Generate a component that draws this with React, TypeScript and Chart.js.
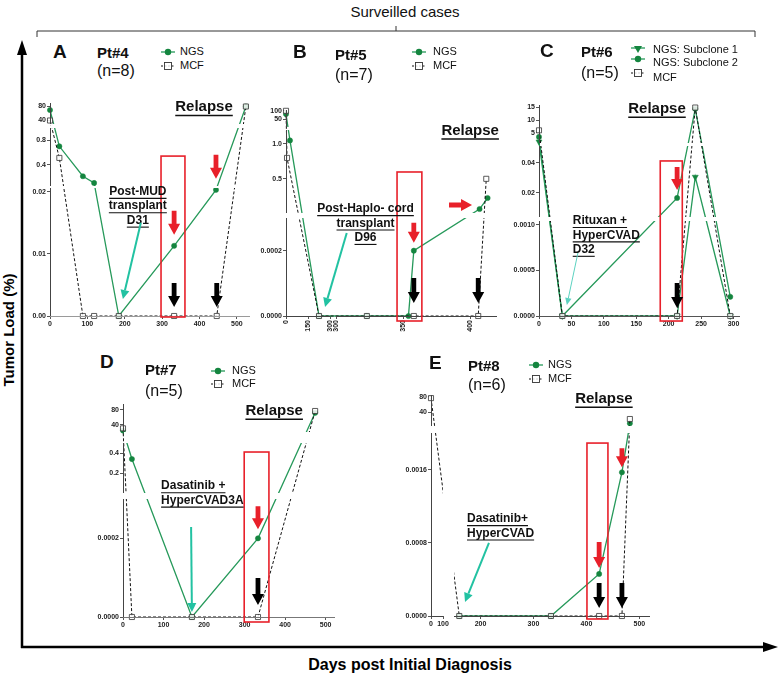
import React, { useEffect, useRef } from 'react';
import { Chart, registerables, LinearScale } from 'chart.js';

// ---------------- DATA ----------------
// Panel A  Pt#4
const A_NGS_DAYS = [0, 25, 88, 118, 184, 332, 444, 524];
const A_NGS_LOAD = [70, 0.7, 0.21, 0.1, 0, 0.0113, 0.0203, 80];
const A_MCF_DAYS = [0, 25, 88, 118, 184, 332, 446, 524];
const A_MCF_LOAD = [40, 0.51, 0, 0, 0, 0, 0, 80];
const A_X_TICKS = [0, 100, 200, 300, 400, 500];
const A_Y_TICKS = [0, 0.01, 0.02, 0.4, 0.8, 40, 80];
const A_Y_LABELS = ['0.00', '0.01', '0.02', '0.4', '0.8', '40', '80'];

// Panel B  Pt#5
const B_NGS_DAYS = [0, 27, 225, 323, 354, 358, 407, 413];
const B_NGS_LOAD = [80, 1.05, 0, 0, 0, 0.0002, 0.067, 0.225];
const B_MCF_DAYS = [0, 7, 225, 323, 358, 406, 412];
const B_MCF_LOAD = [100, 0.8, 0, 0, 0, 0, 0.5];
const B_X_TICKS = [0, 150, 299.9, 300, 350, 400];
const B_X_LABELS = ['0', '150', '300', '300', '350', '400'];
const B_Y_TICKS = [0, 0.0002, 0.5, 1.0, 50, 100];
const B_Y_LABELS = ['0.0000', '0.0002', '0.5', '1.0', '50', '100'];

// Panel C  Pt#6
const C_DAYS = [0, 36, 213, 241, 295];
const C_SUB1_LOAD = [1.5, 0, 0, 0.0305, 0];
const C_SUB2_LOAD = [3.4, 0, 0.0166, 14.5, 0.00021];
const C_MCF_LOAD = [6, 0, 0, 15, 0];
const C_X_TICKS = [0, 50, 100, 150, 200, 250, 300];
const C_Y_TICKS = [0, 0.0005, 0.001, 0.02, 0.04, 5, 10, 15];
const C_Y_LABELS = ['0.0000', '0.0005', '0.0010', '0.02', '0.04', '5', '10', '15'];

// Panel D  Pt#7
const D_DAYS = [0, 22, 170, 333, 474];
const D_NGS_LOAD = [24, 0.34, 0, 0.0002, 72];
const D_MCF_LOAD = [30, 0, 0, 0, 77];
const D_X_TICKS = [0, 100, 200, 300, 400, 500];
const D_Y_TICKS = [0, 0.0002, 0.2, 0.4, 40, 80];
const D_Y_LABELS = ['0.0000', '0.0002', '0.2', '0.4', '40', '80'];

// Panel E  Pt#8
const E_NGS_DAYS = [160, 333, 424, 467, 482];
const E_NGS_LOAD = [0, 0, 0.00046, 0.00157, 12];
const E_MCF_DAYS = [0, 160, 333, 424, 467, 482];
const E_MCF_LOAD = [77, 0, 0, 0, 0, 23];
const E_X_TICKS = [0, 100, 200, 300, 400, 500];
const E_Y_TICKS = [0, 0.0008, 0.0016, 40, 80];
const E_Y_LABELS = ['0.0000', '0.0008', '0.0016', '40', '80'];

// ---------------- STYLE ----------------
const FONT = '"Liberation Sans", Arial, sans-serif';
const GREEN = '#26995a';
const GREEN_D = '#14853f';
const TEAL = '#22c2a2';
const RED = '#e8202a';

// ---------------- BROKEN SCALE ----------------
class BrokenScale extends (LinearScale as any) {
  static id = 'broken';
  static defaults = {};
  determineDataLimits() {
    const o: any = this.options;
    this.min = o.segMin[0];
    this.max = o.segMax[o.segMax.length - 1];
  }
  buildTicks() {
    const o: any = this.options;
    return o.tickValues.map((v: number) => ({ value: v }));
  }
  toDec(v: number) {
    const o: any = this.options;
    const mn = o.segMin, mx = o.segMax, a = o.segA, b = o.segB;
    const n = mn.length;
    for (let i = 0; i < n; i++) {
      if (v >= mn[i] && v <= mx[i]) return a[i] + ((v - mn[i]) / (mx[i] - mn[i])) * (b[i] - a[i]);
    }
    if (v < mn[0]) return a[0] + ((v - mn[0]) / (mx[0] - mn[0])) * (b[0] - a[0]);
    if (v > mx[n - 1]) return a[n - 1] + ((v - mn[n - 1]) / (mx[n - 1] - mn[n - 1])) * (b[n - 1] - a[n - 1]);
    for (let i = 0; i < n - 1; i++) {
      if (v > mx[i] && v < mn[i + 1]) return b[i] + ((v - mx[i]) / (mn[i + 1] - mx[i])) * (a[i + 1] - b[i]);
    }
    return 0;
  }
  fromDec(d: number) {
    const o: any = this.options;
    const mn = o.segMin, mx = o.segMax, a = o.segA, b = o.segB;
    for (let i = 0; i < mn.length; i++) {
      if (d >= a[i] && d <= b[i]) return mn[i] + ((d - a[i]) / (b[i] - a[i])) * (mx[i] - mn[i]);
    }
    return mn[0];
  }
  getPixelForValue(v: number) {
    return (this as any).getPixelForDecimal(this.toDec(v));
  }
  getValueForPixel(p: number) {
    return this.fromDec((this as any).getDecimalForPixel(p));
  }
}

Chart.register(...registerables, BrokenScale as any);

// ---------------- HELPERS ----------------
type Area = { l: number; t: number; r: number; b: number };
type Seg = [number, number, number, number]; // min, max, pixelStart, pixelEnd

const PAD_L = 48, PAD_T = 20, PAD_R = 12, PAD_B = 26;
const boxOf = (a: Area) => ({ l: a.l - PAD_L, t: a.t - PAD_T, r: a.r + PAD_R, b: a.b + PAD_B });

function tickFont() {
  return { size: 7, weight: 'bold' as const, family: FONT };
}

function yAxis(area: Area, segs: Seg[], ticks: number[], labels: string[]) {
  const h = area.b - area.t;
  return {
    type: 'broken',
    position: 'left',
    segMin: segs.map((s) => s[0]),
    segMax: segs.map((s) => s[1]),
    segA: segs.map((s) => (area.b - s[2]) / h),
    segB: segs.map((s) => (area.b - s[3]) / h),
    tickValues: ticks,
    ticks: { callback: (_v: any, i: number) => labels[i], autoSkip: false, font: tickFont(), color: '#222', padding: 1, maxRotation: 0, minRotation: 0 },
    grid: { display: true, drawOnChartArea: false, drawTicks: true, tickLength: 3, color: '#555' },
    border: { display: false },
    afterFit: (s: any) => { s.width = PAD_L; s.paddingTop = 0; s.paddingBottom = 0; },
  };
}

function xAxis(area: Area, segs: Seg[], ticks: number[], labels: string[], rot = 0, axisColor = '#666') {
  const w = area.r - area.l;
  return {
    type: 'broken',
    position: 'bottom',
    axisColor,
    segMin: segs.map((s) => s[0]),
    segMax: segs.map((s) => s[1]),
    segA: segs.map((s) => (s[2] - area.l) / w),
    segB: segs.map((s) => (s[3] - area.l) / w),
    tickValues: ticks,
    ticks: { callback: (_v: any, i: number) => labels[i], autoSkip: false, font: tickFont(), color: '#222', padding: 1, maxRotation: rot, minRotation: rot },
    grid: { display: true, drawOnChartArea: false, drawTicks: true, tickLength: 3, color: '#555' },
    border: { display: false },
    afterFit: (s: any) => { s.height = PAD_B; s.paddingLeft = 0; s.paddingRight = 0; },
  };
}

const pts = (days: number[], vals: number[]) => days.map((d, i) => ({ x: d, y: vals[i] }));

function ngsSet(label: string, days: number[], vals: number[], extra: any = {}) {
  return {
    label, data: pts(days, vals), borderColor: GREEN, borderWidth: 1.3,
    pointStyle: 'circle', pointRadius: 2.6, pointBackgroundColor: GREEN_D, pointBorderColor: GREEN_D,
    pointBorderWidth: 0.5, clip: false, tension: 0, ...extra,
  };
}
function mcfSet(days: number[], vals: number[]) {
  return {
    label: 'MCF', data: pts(days, vals), borderColor: '#111', borderWidth: 1, borderDash: [3, 2],
    pointStyle: 'rect', pointRadius: 3.6, pointBackgroundColor: 'rgba(255,255,255,0.85)',
    pointBorderColor: '#333', pointBorderWidth: 0.8, clip: false, tension: 0,
  };
}

type Note =
  | { kind: 'rect'; x0: number; x1: number; y0: number; y1: number }
  | { kind: 'text'; x: number; y: number; lines: string[]; size: number; align: 'left' | 'center' }
  | { kind: 'pointer'; x0: number; y0: number; x1: number; y1: number; width: number; color: string }
  | { kind: 'block'; x: number; y: number; dir: 'down' | 'right'; gap: number; len: number; color: string; dy?: number };

function blockArrow(ctx: CanvasRenderingContext2D, tx: number, ty: number, ux: number, uy: number, len: number, color: string) {
  const hw = 6, sw = 2.4, hl = 11;
  const px = -uy, py = ux;
  const bx = tx - ux * hl, by = ty - uy * hl;
  const ex = tx - ux * len, ey = ty - uy * len;
  ctx.beginPath();
  ctx.moveTo(tx, ty);
  ctx.lineTo(bx + px * hw, by + py * hw);
  ctx.lineTo(bx + px * sw, by + py * sw);
  ctx.lineTo(ex + px * sw, ey + py * sw);
  ctx.lineTo(ex - px * sw, ey - py * sw);
  ctx.lineTo(bx - px * sw, by - py * sw);
  ctx.lineTo(bx - px * hw, by - py * hw);
  ctx.closePath();
  ctx.fillStyle = color;
  ctx.fill();
}

function makePlugin(notes: Note[]) {
  return {
    id: 'panelNotes',
    afterDatasetsDraw(chart: any) {
      const ctx: CanvasRenderingContext2D = chart.ctx;
      const xs = chart.scales.x, ys = chart.scales.y;
      const ca = chart.chartArea;
      const yo = ys.options, xo = xs.options;
      ctx.save();
      // white breaks across the plot
      ctx.fillStyle = '#fff';
      for (let i = 0; i < yo.segMin.length - 1; i++) {
        const p0 = ys.getPixelForValue(yo.segMax[i]);
        const p1 = ys.getPixelForValue(yo.segMin[i + 1]);
        ctx.fillRect(ca.left + 1, p1, ca.right - ca.left + 6, p0 - p1);
      }
      for (let i = 0; i < xo.segMin.length - 1; i++) {
        const p0 = xs.getPixelForValue(xo.segMax[i]);
        const p1 = xs.getPixelForValue(xo.segMin[i + 1]);
        ctx.fillRect(p0, ca.top - 6, p1 - p0, ca.bottom - ca.top + 5);
      }
      // axis segments
      ctx.lineWidth = 1;
      ctx.strokeStyle = '#444';
      const ax = Math.round(ca.left) + 0.5;
      for (let i = 0; i < yo.segMin.length; i++) {
        ctx.beginPath();
        ctx.moveTo(ax, ys.getPixelForValue(yo.segMin[i]));
        ctx.lineTo(ax, ys.getPixelForValue(yo.segMax[i]));
        ctx.stroke();
      }
      ctx.strokeStyle = xo.axisColor || '#666';
      const ay = Math.round(ca.bottom) + 0.5;
      for (let i = 0; i < xo.segMin.length; i++) {
        ctx.beginPath();
        ctx.moveTo(xs.getPixelForValue(xo.segMin[i]), ay);
        ctx.lineTo(xs.getPixelForValue(xo.segMax[i]), ay);
        ctx.stroke();
      }
      // notes
      for (const n of notes) {
        if (n.kind === 'rect') {
          const x0 = xs.getPixelForValue(n.x0), x1 = xs.getPixelForValue(n.x1);
          const y0 = ys.getPixelForValue(n.y0), y1 = ys.getPixelForValue(n.y1);
          ctx.strokeStyle = RED;
          ctx.lineWidth = 1.6;
          ctx.strokeRect(x0, y1, x1 - x0, y0 - y1);
        } else if (n.kind === 'text') {
          const x = xs.getPixelForValue(n.x), y = ys.getPixelForValue(n.y);
          ctx.font = `bold ${n.size}px ${FONT}`;
          ctx.fillStyle = '#111';
          ctx.strokeStyle = '#111';
          ctx.textBaseline = 'middle';
          ctx.textAlign = n.align;
          const lh = n.size * 1.2;
          n.lines.forEach((ln, i) => {
            const yy = y + i * lh;
            ctx.fillText(ln, x, yy);
            const w = ctx.measureText(ln).width;
            const lx = n.align === 'center' ? x - w / 2 : x;
            ctx.lineWidth = n.size > 13 ? 1.5 : 1.1;
            ctx.beginPath();
            ctx.moveTo(lx, yy + n.size * 0.55);
            ctx.lineTo(lx + w, yy + n.size * 0.55);
            ctx.stroke();
          });
        } else if (n.kind === 'pointer') {
          const x0 = xs.getPixelForValue(n.x0), y0 = ys.getPixelForValue(n.y0);
          const x1 = xs.getPixelForValue(n.x1), y1 = ys.getPixelForValue(n.y1);
          const L = Math.hypot(x1 - x0, y1 - y0);
          const ux = (x1 - x0) / L, uy = (y1 - y0) / L;
          const hl = n.width > 1.5 ? 9 : 7, hw = n.width > 1.5 ? 4.5 : 3.2;
          ctx.strokeStyle = n.color;
          ctx.fillStyle = n.color;
          ctx.lineWidth = n.width;
          ctx.beginPath();
          ctx.moveTo(x0, y0);
          ctx.lineTo(x1 - ux * hl, y1 - uy * hl);
          ctx.stroke();
          ctx.beginPath();
          ctx.moveTo(x1, y1);
          ctx.lineTo(x1 - ux * hl - uy * hw, y1 - uy * hl + ux * hw);
          ctx.lineTo(x1 - ux * hl + uy * hw, y1 - uy * hl - ux * hw);
          ctx.closePath();
          ctx.fill();
        } else if (n.kind === 'block') {
          const px = xs.getPixelForValue(n.x), py = ys.getPixelForValue(n.y);
          if (n.dir === 'down') blockArrow(ctx, px, py - n.gap, 0, 1, n.len, n.color);
          else blockArrow(ctx, px - n.gap, py + (n.dy || 0), 1, 0, n.len, n.color);
        }
      }
      ctx.restore();
    },
  };
}

// ---------------- PANELS ----------------
type PanelCfg = { area: Area; x: any; y: any; datasets: any[]; notes: Note[] };

const A_AREA: Area = { l: 50, t: 103, r: 250, b: 316 };
const B_AREA: Area = { l: 286, t: 110, r: 497, b: 316 };
const C_AREA: Area = { l: 539, t: 105, r: 740, b: 316 };
const D_AREA: Area = { l: 123, t: 404, r: 335, b: 617 };
const E_AREA: Area = { l: 431, t: 395, r: 650, b: 616 };

const PANELS: PanelCfg[] = [
  {
    area: A_AREA,
    x: xAxis(A_AREA, [[0, 535, 50, 250]], A_X_TICKS, A_X_TICKS.map(String), 0, '#9a9a9a'),
    y: yAxis(A_AREA, [[0, 0.0206, 316, 188], [0.05, 1.0, 186, 128], [30, 90, 124, 103]], A_Y_TICKS, A_Y_LABELS),
    datasets: [mcfSet(A_MCF_DAYS, A_MCF_LOAD), ngsSet('NGS', A_NGS_DAYS, A_NGS_LOAD)],
    notes: [
      { kind: 'rect', x0: 297, x1: 361, y0: -0.00016, y1: 0.54 },
      { kind: 'text', x: 412, y: 78, lines: ['Relapse'], size: 15, align: 'center' },
      { kind: 'text', x: 235, y: 0.02, lines: ['Post-MUD', 'transplant', 'D31'], size: 12, align: 'center' },
      { kind: 'pointer', x0: 243, y0: 0.015, x1: 195, y1: 0.00274, width: 2, color: TEAL },
      { kind: 'block', x: 332, y: 0.0113, dir: 'down', gap: 11, len: 24, color: RED },
      { kind: 'block', x: 444, y: 0.0203, dir: 'down', gap: 11, len: 24, color: RED },
      { kind: 'block', x: 332, y: 0, dir: 'down', gap: 9, len: 24, color: '#000' },
      { kind: 'block', x: 446, y: 0, dir: 'down', gap: 9, len: 24, color: '#000' },
    ],
  },
  {
    area: B_AREA,
    x: xAxis(B_AREA, [[0, 299.9, 286, 330], [300, 420, 336, 497]], B_X_TICKS, B_X_LABELS, 90, '#444'),
    y: yAxis(B_AREA, [[0, 0.0003, 316, 218], [0.01, 1.2, 213, 130], [1.3, 105, 127, 110]], B_Y_TICKS, B_Y_LABELS),
    datasets: [mcfSet(B_MCF_DAYS, B_MCF_LOAD), ngsSet('NGS', B_NGS_DAYS, B_NGS_LOAD)],
    notes: [
      { kind: 'rect', x0: 345.5, x1: 364, y0: -0.0000153, y1: 0.598 },
      { kind: 'text', x: 400, y: 1.19, lines: ['Relapse'], size: 15, align: 'center' },
      { kind: 'text', x: 322, y: 0.067, lines: ['Post-Haplo- cord', 'transplant', 'D96'], size: 12, align: 'center' },
      { kind: 'pointer', x0: 308, y0: 0.000254, x1: 266, y1: 0.0000276, width: 2, color: TEAL },
      { kind: 'block', x: 358, y: 0.0002, dir: 'down', gap: 8, len: 20, color: RED },
      { kind: 'block', x: 406.6, y: 0.067, dir: 'right', gap: 7, len: 23, color: RED, dy: -4 },
      { kind: 'block', x: 358, y: 0, dir: 'down', gap: 13, len: 25, color: '#000' },
      { kind: 'block', x: 406, y: 0, dir: 'down', gap: 13, len: 25, color: '#000' },
    ],
  },
  {
    area: C_AREA,
    x: xAxis(C_AREA, [[0, 310, 539, 740]], C_X_TICKS, C_X_TICKS.map(String), 0, '#555'),
    y: yAxis(C_AREA, [[0, 0.00104, 316, 221], [0.004, 0.051, 217, 146], [1, 16, 143, 105]], C_Y_TICKS, C_Y_LABELS),
    datasets: [
      mcfSet(C_DAYS, C_MCF_LOAD),
      ngsSet('NGS: Subclone 1', C_DAYS, C_SUB1_LOAD, { pointStyle: 'triangle', pointRotation: 180, pointRadius: 3.5 }),
      ngsSet('NGS: Subclone 2', C_DAYS, C_SUB2_LOAD),
    ],
    notes: [
      { kind: 'rect', x0: 187, x1: 221, y0: -0.000055, y1: 0.0411 },
      { kind: 'text', x: 182, y: 14.4, lines: ['Relapse'], size: 15, align: 'center' },
      { kind: 'text', x: 52, y: 0.0011, lines: ['Rituxan +', 'HyperCVAD', 'D32'], size: 12, align: 'left' },
      { kind: 'pointer', x0: 60, y0: 0.00069, x1: 43, y1: 0.00012, width: 1, color: '#5cd2c0' },
      { kind: 'block', x: 213, y: 0.0166, dir: 'down', gap: 8, len: 23, color: RED },
      { kind: 'block', x: 213, y: 0, dir: 'down', gap: 8, len: 25, color: '#000' },
    ],
  },
  {
    area: D_AREA,
    x: xAxis(D_AREA, [[0, 523, 123, 335]], D_X_TICKS, D_X_TICKS.map(String), 0, '#777'),
    y: yAxis(D_AREA, [[0, 0.0003, 617, 499], [0.001, 0.5, 493, 443], [20, 96, 432, 404]], D_Y_TICKS, D_Y_LABELS),
    datasets: [mcfSet(D_DAYS, D_MCF_LOAD), ngsSet('NGS', D_DAYS, D_NGS_LOAD)],
    notes: [
      { kind: 'rect', x0: 299, x1: 360, y0: -0.0000127, y1: 0.41 },
      { kind: 'text', x: 373, y: 77, lines: ['Relapse'], size: 15, align: 'center' },
      { kind: 'text', x: 94, y: 0.07, lines: ['Dasatinib +', 'HyperCVAD3A'], size: 12, align: 'left' },
      { kind: 'pointer', x0: 168, y0: 0.000229, x1: 170, y1: 0.0000127, width: 2, color: TEAL },
      { kind: 'block', x: 333, y: 0.0002, dir: 'down', gap: 9, len: 23, color: RED },
      { kind: 'block', x: 333, y: 0, dir: 'down', gap: 12, len: 27, color: '#000' },
    ],
  },
  {
    area: E_AREA,
    x: xAxis(E_AREA, [[0, 100, 431, 443], [150, 520, 454, 650]], E_X_TICKS, E_X_TICKS.map(String), 0, '#444'),
    y: yAxis(E_AREA, [[0, 0.002, 616, 433], [5, 85, 426, 395]], E_Y_TICKS, E_Y_LABELS),
    datasets: [mcfSet(E_MCF_DAYS, E_MCF_LOAD), ngsSet('NGS', E_NGS_DAYS, E_NGS_LOAD)],
    notes: [
      { kind: 'rect', x0: 401, x1: 440.6, y0: -0.0000328, y1: 0.00189 },
      { kind: 'text', x: 433, y: 74.7, lines: ['Relapse'], size: 15, align: 'center' },
      { kind: 'text', x: 174.5, y: 0.00106, lines: ['Dasatinib+', 'HyperCVAD'], size: 12, align: 'left' },
      { kind: 'pointer', x0: 216, y0: 0.000798, x1: 170.8, y1: 0.000153, width: 2, color: TEAL },
      { kind: 'block', x: 424, y: 0.00046, dir: 'down', gap: 6, len: 26, color: RED },
      { kind: 'block', x: 467, y: 0.00157, dir: 'down', gap: 5, len: 19, color: RED },
      { kind: 'block', x: 424, y: 0, dir: 'down', gap: 8, len: 25, color: '#000' },
      { kind: 'block', x: 467, y: 0, dir: 'down', gap: 8, len: 25, color: '#000' },
    ],
  },
];

function Panel({ cfg }: { cfg: PanelCfg }) {
  const ref = useRef<HTMLCanvasElement>(null);
  const box = boxOf(cfg.area);
  useEffect(() => {
    const chart = new Chart(ref.current as HTMLCanvasElement, {
      type: 'line',
      data: { datasets: cfg.datasets },
      options: {
        animation: false,
        responsive: false,
        events: [],
        layout: { padding: { top: PAD_T, right: PAD_R, left: 0, bottom: 0 } },
        plugins: { legend: { display: false }, tooltip: { enabled: false } },
        scales: { x: cfg.x, y: cfg.y },
      } as any,
      plugins: [makePlugin(cfg.notes)],
    } as any);
    return () => chart.destroy();
  }, []);
  return (
    <canvas
      ref={ref}
      width={box.r - box.l}
      height={box.b - box.t}
      style={{ position: 'absolute', left: box.l, top: box.t }}
    />
  );
}

// ---------------- HTML TEXT ----------------
function Txt({ x, y, size, bold, children }: { x: number; y: number; size: number; bold?: boolean; children: any }) {
  return (
    <div
      style={{
        position: 'absolute', left: x, top: y - size * 0.6, fontSize: size, lineHeight: `${size * 1.2}px`,
        fontWeight: bold ? 'bold' : 'normal', whiteSpace: 'nowrap', color: '#111',
      }}
    >
      {children}
    </div>
  );
}

function Marker({ x, y, kind }: { x: number; y: number; kind: 'ngs' | 'mcf' | 'tri' }) {
  return (
    <svg width={16} height={12} style={{ position: 'absolute', left: x - 8, top: y - 6 }}>
      {kind === 'mcf' ? (
        <g>
          <line x1={1} y1={6} x2={15} y2={6} stroke="#111" strokeWidth={1} strokeDasharray="2 1.5" />
          <rect x={4.5} y={2.5} width={7} height={7} fill="rgba(255,255,255,0.8)" stroke="#333" strokeWidth={0.9} />
        </g>
      ) : kind === 'tri' ? (
        <g>
          <line x1={1} y1={4} x2={15} y2={4} stroke={GREEN} strokeWidth={1.3} />
          <polygon points="4,2 12,2 8,9" fill={GREEN_D} />
        </g>
      ) : (
        <g>
          <line x1={1} y1={6} x2={15} y2={6} stroke={GREEN} strokeWidth={1.3} />
          <circle cx={8} cy={6} r={3.2} fill={GREEN_D} />
        </g>
      )}
    </svg>
  );
}

function Header({ letter, lx, ly, pt, px, py, n, ny, legend }: any) {
  return (
    <>
      <Txt x={lx} y={ly} size={19} bold>{letter}</Txt>
      <Txt x={px} y={py} size={15} bold>{pt}</Txt>
      <Txt x={px} y={ny} size={16}>{n}</Txt>
      {legend.map((l: any, i: number) => (
        <React.Fragment key={i}>
          <Marker x={l.mx} y={l.my} kind={l.kind} />
          <Txt x={l.tx} y={l.ty} size={11}>{l.text}</Txt>
        </React.Fragment>
      ))}
    </>
  );
}

export default function App() {
  return (
    <div
      style={{
        position: 'fixed', left: 0, top: 0, width: 778, height: 675, background: '#fff',
        fontFamily: FONT, overflow: 'hidden',
      }}
    >
      <svg width={778} height={675} style={{ position: 'absolute', left: 0, top: 0 }}>
        <text x={405} y={17} textAnchor="middle" fontSize={15} fontFamily={FONT} fill="#111">Surveilled cases</text>
        <path d="M37 37 V31 H755 V37 M396 31 V26" stroke="#333" strokeWidth={1} fill="none" />
        <line x1={22} y1={648} x2={22} y2={52} stroke="#000" strokeWidth={2.5} />
        <polygon points="22,40 17,55 27,55" fill="#000" />
        <line x1={21} y1={647} x2={766} y2={647} stroke="#000" strokeWidth={2.5} />
        <polygon points="778,647 763,642 763,652" fill="#000" />
        <text transform="translate(14,330) rotate(-90)" textAnchor="middle" fontSize={15} fontWeight="bold" fontFamily={FONT} fill="#000">Tumor Load (%)</text>
        <text x={410} y={670} textAnchor="middle" fontSize={16} fontWeight="bold" fontFamily={FONT} fill="#000">Days post Initial Diagnosis</text>
      </svg>
      {PANELS.map((p, i) => <Panel key={i} cfg={p} />)}
      <Header letter="A" lx={53} ly={52} pt="Pt#4" px={97} py={53} n="(n=8)" ny={71}
        legend={[{ kind: 'ngs', mx: 168, my: 52, tx: 180, ty: 52, text: 'NGS' }, { kind: 'mcf', mx: 168, my: 66, tx: 180, ty: 66, text: 'MCF' }]} />
      <Header letter="B" lx={293} ly={52} pt="Pt#5" px={335} py={55} n="(n=7)" ny={75}
        legend={[{ kind: 'ngs', mx: 419, my: 52, tx: 433, ty: 52, text: 'NGS' }, { kind: 'mcf', mx: 419, my: 66, tx: 433, ty: 66, text: 'MCF' }]} />
      <Header letter="C" lx={540} ly={51} pt="Pt#6" px={581} py={52} n="(n=5)" ny={73}
        legend={[
          { kind: 'tri', mx: 638, my: 50, tx: 653, ty: 50, text: 'NGS: Subclone 1' },
          { kind: 'ngs', mx: 638, my: 59, tx: 653, ty: 63, text: 'NGS: Subclone 2' },
          { kind: 'mcf', mx: 638, my: 73, tx: 653, ty: 78, text: 'MCF' },
        ]} />
      <Header letter="D" lx={100} ly={362} pt="Pt#7" px={145} py={370} n="(n=5)" ny={391}
        legend={[{ kind: 'ngs', mx: 218, my: 371, tx: 232, ty: 371, text: 'NGS' }, { kind: 'mcf', mx: 218, my: 384, tx: 232, ty: 384, text: 'MCF' }]} />
      <Header letter="E" lx={429} ly={363} pt="Pt#8" px={468} py={366} n="(n=6)" ny={385}
        legend={[{ kind: 'ngs', mx: 536, my: 365, tx: 548, ty: 365, text: 'NGS' }, { kind: 'mcf', mx: 536, my: 379, tx: 548, ty: 379, text: 'MCF' }]} />
    </div>
  );
}
